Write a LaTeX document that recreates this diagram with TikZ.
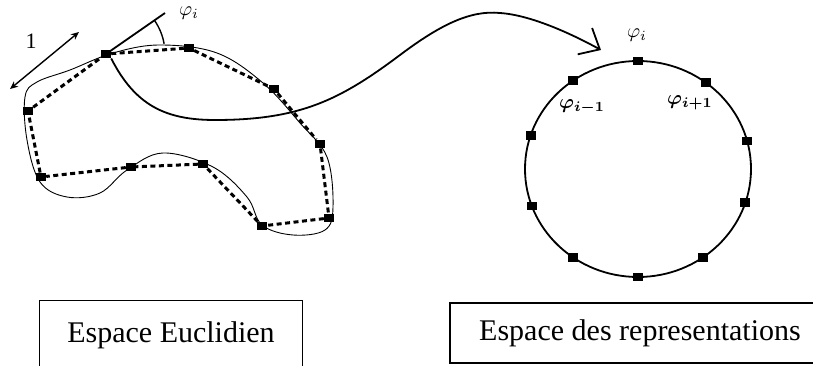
\documentclass[tikz,border=0pt]{standalone}
\usepackage{amsmath,amssymb,bm}
\usepackage{fontspec}
\setmainfont{Liberation Serif}
\usetikzlibrary{arrows.meta,positioning,calc}
\tikzset{
  >=Stealth,
  sq/.style ={fill=black,minimum width=10pt,minimum height=8.5pt,inner sep=0pt},
  dpoly/.style={line width=3pt,dash pattern=on 5pt off 3.5pt},
  outline/.style={line width=0.9pt},
  ar/.style ={line width=1.8pt},
  lbl/.style={inner sep=0pt,scale=2,transform shape},
  box/.style={inner sep=0pt,font=\fontsize{30}{34}\selectfont},
}

\begin{document}
\begin{tikzpicture}[x=1pt,y=-1pt]
\useasboundingbox (0,0) rectangle (813,366);
% euclidean space
\draw[outline] plot[smooth cycle,tension=0.6] coordinates {(25,97) (37,82) (70,70) (113,53)
  (160,45) (217,53) (263,83) (300,123) (327,157) (333,207) (325,230) (293,235) (262,225)
  (247,197) (213,167) (163,153) (127,170) (100,193) (67,197) (40,182) (27,140)};
\node[sq] (p1)  at (106,54)  {};
\node[sq] (p2)  at (189,48)  {};
\node[sq] (p3)  at (274,89)  {};
\node[sq] (p4)  at (320,144) {};
\node[sq] (p5)  at (329,218) {};
\node[sq] (p6)  at (262,226) {};
\node[sq] (p7)  at (203,164) {};
\node[sq] (p8)  at (131,167) {};
\node[sq] (p9)  at (41,177)  {};
\node[sq] (p10) at (28,111)  {};
\draw[dpoly] (p1)--(p2)--(p3)--(p4)--(p5)--(p6)--(p7)--(p8)--(p9)--(p10)--(p1);
\coordinate (tg) at (165,13);
\draw[ar] (p1.center)--(tg);
\draw[ar,line width=1.4pt] (p1.center) ++(-35:59) arc[start angle=-35,end angle=-10,radius=59];
\node[lbl] (phiL) at (189,13) {$\varphi_i$};
\coordinate (u1) at (10,89);
\coordinate (u2) at (79,32);
\draw[<->,line width=1.4pt,>={Stealth[length=8pt,width=7pt]}] (u1)--(u2);
\node[inner sep=0pt,font=\fontsize{22}{24}\selectfont] (one) at (31,41) {1};
% representation space
\coordinate (ctr) at (638,169);
\draw[ar] (ctr) ellipse[x radius=113,y radius=108];
\foreach \a [count=\i] in {90,125,162,200,235,270,305,342,15,53}
  \node[sq] (c\i) at ($(ctr)+({113*cos(\a)},{-108*sin(\a)})$) {};
\node[lbl] (phiT) at (637,35) {$\varphi_i$};
\node[lbl] (phiM) at (582,107) {$\bm{\varphi_{i-1}}$};
\node[lbl] (phiP) at (690,103) {$\bm{\varphi_{i+1}}$};
\coordinate (arrE) at (601,50);
\draw[ar,-{Straight Barb[length=17pt,width=30pt]}] (p1.south east)
  .. controls (135,105) and (165,120) .. (215,120)
  .. controls (300,120) and (340,100) .. (400,55)
  .. controls (440,25) and (470,10) .. (500,13)
  .. controls (530,15) and (570,33) .. (arrE);
% captions
\node[box,minimum width=262pt,minimum height=68pt] (euc) at (171,335) {Espace Euclidien};
\draw[line width=1.3pt] (euc.south west) |- (euc.north east) -- (euc.south east);
\node[box,draw,line width=1.3pt,minimum width=380pt,minimum height=60pt] (rep) at (640,333)
  {Espace des representations};
\end{tikzpicture}
\end{document}
